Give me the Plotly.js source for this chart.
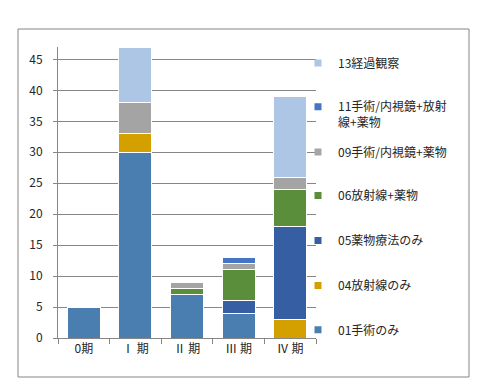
<!DOCTYPE html>
<html><head><meta charset="utf-8">
<script src="https://cdn.plot.ly/plotly-3.0.1.min.js"></script>
<style>html,body{margin:0;padding:0;background:#fff}#chart{width:491px;height:378px}</style>
</head><body><div id="chart"></div>
<script>
// Categories (stages)
const categories = ['0期', 'Ⅰ 期', 'Ⅱ 期', 'Ⅲ 期', 'Ⅳ 期'];
// Series values (null = no segment)
const s01 = [5, 30, 7, 4, null];      // 01手術のみ
const s04 = [null, 3, null, null, 3]; // 04放射線のみ
const s05 = [null, null, null, 2, 15];// 05薬物療法のみ
const s06 = [null, null, 1, 5, 6];    // 06放射線+薬物
const s09 = [null, 5, 1, 1, 2];       // 09手術/内視鏡+薬物
const s11 = [null, null, null, 1, null]; // 11手術/内視鏡+放射線+薬物
const s13 = [null, 9, null, null, 13];   // 13経過観察
const names = ['01手術のみ', '04放射線のみ', '05薬物療法のみ', '06放射線+薬物',
  '09手術/内視鏡+薬物', '11手術/内視鏡+放射<br>線+薬物', '13経過観察'];
const yTicks = [0, 5, 10, 15, 20, 25, 30, 35, 40, 45];

const series = [s01, s04, s05, s06, s09, s11, s13];
const colors = ['#4A7EB0', '#D4A000', '#365EA2', '#5A8E3A', '#A6A6A6', '#4674C6', '#AEC6E5'];
// legend text centre positions in pixels (layout only)
const legendY = [330, 285.7, 240.7, 195.7, 152.3, 115, 63.3];

const plotTop = 47, plotBottom = 338, plotH = plotBottom - plotTop;
const font = {family: '"Noto Sans CJK JP", "Noto Sans", sans-serif', size: 12, color: '#262626'};

const traces = series.map((vals, i) => {
  const t = {
    type: 'bar', x: categories, y: vals, name: names[i], showlegend: false,
    marker: {color: colors[i], line: {color: '#ffffff', width: 1}},
    hoverinfo: 'skip'
  };
  if (i === 4) t.marker.pattern = {shape: '.', fgcolor: '#9c9c9c', bgcolor: '#ababab', size: 2, solidity: 0.5};
  return t;
});
// legend entries (small square swatches)
series.forEach((v, i) => {
  traces.push({
    type: 'scatter', mode: 'markers', x: [null], y: [null], name: names[i],
    marker: {symbol: 'square', size: 7, color: colors[i]},
    legend: i === 0 ? 'legend' : 'legend' + (i + 1), showlegend: true, hoverinfo: 'skip'
  });
});

const layout = {
  width: 491, height: 378,
  margin: {l: 58, r: 175, t: plotTop, b: 378 - plotBottom},
  paper_bgcolor: '#ffffff', plot_bgcolor: '#ffffff',
  barmode: 'stack', bargap: 0.36,
  font: font,
  showlegend: true,
  xaxis: {
    type: 'category', categoryarray: categories, categoryorder: 'array',
    showgrid: false, showline: true, linecolor: '#868686', linewidth: 1,
    ticks: 'outside', tickson: 'boundaries', ticklen: 5, tickcolor: '#868686',
    tickfont: font, zeroline: false, fixedrange: true
  },
  yaxis: {
    range: [0, 47], tickvals: yTicks, ticktext: yTicks.map(String),
    showgrid: true, gridcolor: '#868686', gridwidth: 1,
    showline: true, linecolor: '#868686', linewidth: 1,
    ticks: 'outside', ticklen: 4, tickcolor: '#868686', ticklabelstandoff: 8,
    tickfont: font, zeroline: false, fixedrange: true
  },
  shapes: [{
    type: 'rect', xref: 'paper', yref: 'paper',
    x0: (18 - 58) / 258, x1: (469 - 58) / 258,
    y0: (plotBottom - 377) / plotH, y1: (plotBottom - 29) / plotH,
    line: {color: '#868686', width: 1}, fillcolor: 'rgba(0,0,0,0)', layer: 'below'
  }]
};
series.forEach((v, i) => {
  const key = i === 0 ? 'legend' : 'legend' + (i + 1);
  layout[key] = {
    x: (298 - 58) / 258, xanchor: 'left',
    y: (plotBottom - legendY[i]) / plotH, yanchor: 'middle',
    bgcolor: 'rgba(0,0,0,0)', borderwidth: 0, font: font,
    valign: 'top', itemclick: false, itemdoubleclick: false
  };
});

Plotly.newPlot('chart', traces, layout, {staticPlot: true, displayModeBar: false});
</script></body></html>
